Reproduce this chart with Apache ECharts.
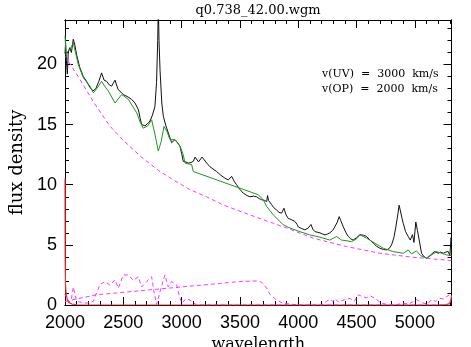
<!DOCTYPE html>
<meta charset="utf-8">
<title>q0.738_42.00.wgm</title>
<style>
body { margin: 0; background: #fff; }
#main { width: 471px; height: 347px; }
</style>
<body>
<div id="main"></div>
<script src="https://cdn.jsdelivr.net/npm/echarts@6/dist/echarts.min.js"></script>
<script>
// observed spectrum (black)
var specWave = [2000, 2005, 2012, 2020, 2028, 2040, 2055, 2071, 2085, 2100, 2125, 2157, 2185, 2214, 2240, 2265, 2290, 2314, 2335, 2357,
  2380, 2400, 2429, 2445, 2457, 2480, 2500, 2540, 2571, 2600, 2629, 2645, 2657, 2686, 2710, 2729, 2750, 2771, 2785, 2795,
  2800, 2806, 2815, 2830, 2843, 2865, 2886, 2914, 2943, 2965, 2986, 3000, 3014, 3035, 3057, 3080, 3100, 3115, 3129, 3145,
  3157, 3175, 3191, 3215, 3243, 3270, 3300, 3335, 3371, 3400, 3429, 3450, 3471, 3500, 3529, 3560, 3586, 3615, 3643, 3665,
  3686, 3710, 3729, 3737, 3745, 3771, 3790, 3814, 3835, 3857, 3877, 3895, 3914, 3940, 3971, 3990, 4000, 4030, 4057, 4085,
  4109, 4125, 4143, 4165, 4186, 4210, 4229, 4250, 4271, 4295, 4314, 4335, 4351, 4365, 4386, 4410, 4429, 4450, 4471, 4500,
  4529, 4560, 4586, 4615, 4643, 4670, 4700, 4730, 4757, 4780, 4800, 4820, 4837, 4855, 4865, 4875, 4890, 4900, 4920, 4943,
  4960, 4971, 4980, 4992, 5000, 5008, 5014, 5022, 5037, 5057, 5080, 5100, 5130, 5150, 5171, 5200, 5220, 5243, 5265, 5286,
  5300, 5310, 5314];
var specFlux = [20.9, 21.8, 20.3, 19.2, 21.0, 21.4, 21.0, 22.1, 21.6, 20.8, 19.8, 19.0, 18.6, 18.1, 17.8, 18.0, 18.6, 19.3, 18.7, 18.6,
  18.3, 18.2, 18.7, 18.2, 17.9, 17.7, 17.5, 17.3, 17.1, 16.8, 16.25, 15.5, 15.0, 14.9, 15.1, 15.3, 15.8, 16.5, 18.5, 22.0,
  25.0, 22.0, 19.5, 16.8, 15.7, 14.9, 14.3, 13.5, 13.75, 13.5, 13.2, 12.6, 11.95, 11.9, 11.8, 11.85, 11.95, 12.3, 12.2, 11.9,
  11.95, 12.3, 12.2, 11.8, 11.5, 11.3, 11.1, 10.8, 10.55, 10.4, 10.7, 10.3, 10.0, 9.6, 9.3, 9.1, 9.0, 9.05, 9.0, 8.85,
  8.75, 8.7, 8.6, 9.1, 8.7, 8.35, 8.1, 7.9, 7.7, 7.64, 8.05, 7.5, 7.2, 7.1, 6.95, 6.7, 6.5, 6.35, 6.25, 6.4,
  6.7, 6.3, 6.1, 6.05, 6.0, 5.9, 5.83, 5.9, 6.0, 6.2, 6.5, 6.9, 7.35, 7.0, 6.5, 6.0, 5.7, 5.5, 5.4, 5.6,
  5.85, 5.8, 5.7, 5.4, 5.15, 4.9, 4.72, 4.62, 4.58, 4.7, 5.0, 5.6, 6.5, 7.6, 8.3, 8.2, 7.2, 6.8, 6.1, 5.7,
  5.4, 5.5, 5.85, 5.2, 5.1, 6.9, 7.05, 6.2, 5.4, 4.3, 4.0, 3.9, 4.1, 4.3, 4.45, 4.3, 4.4, 4.3, 4.4, 4.45,
  4.1, 5.6, 5.3];

// fitted model (green)
var modelWave = [2000, 2010, 2025, 2045, 2071, 2090, 2114, 2157, 2214, 2243, 2280, 2314, 2340, 2371, 2429, 2486, 2543, 2614, 2645, 2671,
  2710, 2743, 2771, 2800, 2825, 2849, 2875, 2900, 2943, 2986, 3014, 3029, 3086, 3100, 3657, 3700, 3729, 3786, 3871, 3929,
  4014, 4100, 4186, 4271, 4329, 4371, 4410, 4457, 4500, 4529, 4586, 4657, 4729, 4814, 4900, 4943, 4971, 5014, 5050, 5100,
  5150, 5186, 5230, 5271, 5314];
var modelFlux = [22.4, 20.8, 21.1, 21.3, 21.8, 21.0, 20.0, 18.9, 18.2, 17.64, 18.1, 18.6, 18.2, 17.8, 16.8, 17.5, 17.1, 16.0, 15.2, 14.7,
  14.9, 15.4, 14.2, 12.8, 13.6, 14.86, 14.4, 13.75, 13.75, 13.2, 12.5, 11.8, 11.67, 11.1, 9.17, 8.75, 8.2, 7.5, 6.67, 6.4,
  6.1, 5.83, 5.64, 5.4, 5.7, 5.4, 5.35, 5.27, 5.5, 5.83, 5.56, 5.14, 4.72, 4.44, 4.3, 4.58, 4.25, 4.5, 4.1, 3.9,
  4.2, 4.44, 4.3, 4.17, 4.1];

// power-law continuum (magenta dashed)
var plWave = [2000, 2129, 2243, 2386, 2500, 2643, 2800, 2929, 3070, 3214, 3350, 3500, 3640, 3786, 3900, 4129, 4414, 4700, 4986, 5314];
var plFlux = [20.7, 18.75, 16.9, 14.86, 13.7, 12.4, 11.2, 10.4, 9.6, 9.0, 8.35, 7.8, 7.3, 6.8, 6.4, 5.56, 4.86, 4.3, 3.97, 3.7];

// Balmer continuum (magenta dashed)
var bcWave = [2000, 2057, 2271, 3500, 3643, 3686, 3729, 3757, 3814, 3870, 3929, 4000, 5314];
var bcFlux = [0.3, 0.42, 0.85, 1.95, 2.0, 1.9, 1.4, 0.9, 0.4, 0.15, 0.08, 0.0, 0.0];

// Fe template (magenta dashed)
var feWave = [2000, 2030, 2055, 2071, 2085, 2100, 2150, 2186, 2243, 2270, 2300, 2343, 2386, 2429, 2457, 2500, 2543, 2586, 2629, 2657,
  2700, 2743, 2765, 2786, 2814, 2857, 2885, 2914, 2957, 2980, 3000, 3043, 3086, 3129, 4200, 4240, 4271, 4300, 4314, 4343,
  4400, 4443, 4480, 4514, 4550, 4586, 4620, 4657, 4714, 4786, 4850, 4900, 4950, 5014, 5071, 5110, 5143, 5180, 5214, 5250,
  5271, 5300, 5314];
var feFlux = [0.9, 0.2, 0.5, 1.5, 0.9, 0.3, 0.2, 0.15, 0.3, 1.0, 1.7, 1.95, 1.65, 2.1, 1.4, 2.5, 2.5, 2.05, 2.35, 1.5,
  1.95, 2.35, 1.0, 0.05, 1.1, 2.5, 1.5, 1.95, 1.65, 0.8, 0.15, 0.55, 0.3, 0.0, 0.0, 0.3, 0.45, 0.3, 0.55, 0.25,
  0.45, 0.55, 0.3, 0.85, 0.7, 0.6, 0.75, 0.55, 0.15, 0.0, 0.05, 0.15, 0.1, 0.45, 0.15, 0.1, 0.45, 0.3, 0.55, 0.5,
  0.7, 0.85, 0.9];

// edge curve (red)
var redWave = [2000, 2001, 2004, 2010, 2020, 2035, 2060, 2100, 2200, 5200, 5270, 5295, 5305, 5310, 5314];
var redFlux = [10.5, 4.0, 1.8, 0.9, 0.45, 0.2, 0.08, 0.02, 0.0, 0.0, 0.03, 0.12, 0.3, 0.5, 0.8];

function pairs(xs, ys) {
  return xs.map(function (x, i) { return [x, ys[i]]; });
}

var XMIN = 2000, XMAX = 5314, YMIN = 0, YMAX = 23.7;
var tickFont = 'Liberation Sans';
var nameFont = 'DejaVu Serif';

function plain(v) { return String(v); }

function xAxis(pos, interval, len, labels) {
  return {
    type: 'value', position: pos, min: XMIN, max: XMAX, interval: interval,
    axisLine: { show: true, onZero: false, lineStyle: { color: '#000', width: 1 } },
    axisTick: { show: true, inside: true, length: len, lineStyle: { color: '#000' } },
    axisLabel: labels ? {
      show: true, color: '#000', fontFamily: tickFont, fontSize: 18, margin: 9,
      showMaxLabel: false, formatter: plain
    } : { show: false },
    splitLine: { show: false },
    name: labels ? 'wavelength' : '',
    nameLocation: 'middle', nameGap: 32,
    nameTextStyle: { fontFamily: nameFont, fontSize: 16, color: '#000' }
  };
}

function yAxis(pos, interval, len, labels) {
  return {
    type: 'value', position: pos, min: YMIN, max: YMAX, interval: interval,
    axisLine: { show: true, onZero: false, lineStyle: { color: '#000', width: 1 } },
    axisTick: { show: true, inside: true, length: len, lineStyle: { color: '#000' } },
    axisLabel: labels ? {
      show: true, color: '#000', fontFamily: tickFont, fontSize: 18, margin: 8,
      showMaxLabel: false, formatter: plain
    } : { show: false },
    splitLine: { show: false },
    name: labels ? 'flux density' : '',
    nameLocation: 'middle', nameGap: 37,
    nameTextStyle: { fontFamily: nameFont, fontSize: 18, color: '#000' }
  };
}

var dash = [4, 3];
var magenta = '#ff33ff';

var chart = echarts.init(document.getElementById('main'), null, { renderer: 'canvas' });
chart.setOption({
  animation: false,
  backgroundColor: '#fff',
  grid: { left: 65, right: 19.5, top: 20, bottom: 42, containLabel: false, outerBoundsMode: 'none' },
  xAxis: [
    xAxis('bottom', 500, 8, true),
    xAxis('bottom', 100, 4, false),
    xAxis('top', 500, 8, false),
    xAxis('top', 100, 4, false)
  ],
  yAxis: [
    yAxis('left', 5, 8, true),
    yAxis('left', 1, 4, false),
    yAxis('right', 5, 8, false),
    yAxis('right', 1, 4, false)
  ],
  series: [
    { name: 'continuum', type: 'line', data: pairs(plWave, plFlux), showSymbol: false, symbol: 'none',
      lineStyle: { color: magenta, width: 1, type: dash }, z: 2 },
    { name: 'balmer', type: 'line', data: pairs(bcWave, bcFlux), showSymbol: false, symbol: 'none',
      lineStyle: { color: magenta, width: 1, type: dash }, z: 2 },
    { name: 'fe', type: 'line', data: pairs(feWave, feFlux), showSymbol: false, symbol: 'none',
      lineStyle: { color: magenta, width: 1, type: dash }, z: 2 },
    { name: 'spectrum', type: 'line', data: pairs(specWave, specFlux), showSymbol: false, symbol: 'none',
      lineStyle: { color: '#111', width: 1 }, z: 3 },
    { name: 'model', type: 'line', data: pairs(modelWave, modelFlux), showSymbol: false, symbol: 'none',
      lineStyle: { color: '#1e961e', width: 1 }, z: 4 },
    { name: 'edge', type: 'line', data: pairs(redWave, redFlux), showSymbol: false, symbol: 'none',
      lineStyle: { color: '#ff3030', width: 1.2 }, z: 5 }
  ],
  graphic: [
    { type: 'text', x: 258, y: 11, z: 10,
      style: { text: 'q0.738_42.00.wgm', font: '13px "DejaVu Serif"', fill: '#000',
        align: 'center', verticalAlign: 'middle', textAlign: 'center', textVerticalAlign: 'middle' } },
    { type: 'text', x: 322, y: 74, z: 10,
      style: { text: 'v(UV)  =  3000  km/s', font: '11px "DejaVu Serif"', fill: '#000',
        align: 'left', verticalAlign: 'middle', textAlign: 'left', textVerticalAlign: 'middle' } },
    { type: 'text', x: 322, y: 89, z: 10,
      style: { text: 'v(OP)  =  2000  km/s', font: '11px "DejaVu Serif"', fill: '#000',
        align: 'left', verticalAlign: 'middle', textAlign: 'left', textVerticalAlign: 'middle' } }
  ]
});
</script>
</body>
